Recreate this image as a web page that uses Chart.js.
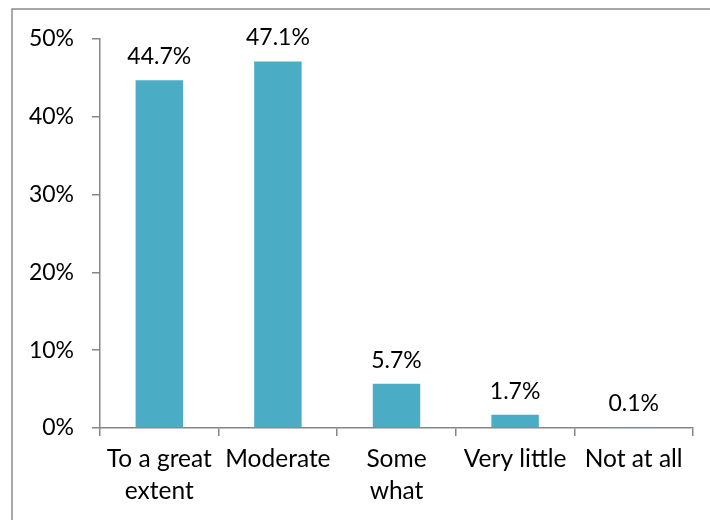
<!DOCTYPE html>
<html>
<head>
<meta charset="utf-8">
<script src="https://cdn.jsdelivr.net/npm/chart.js@4/dist/chart.umd.min.js"></script>
<style>
  html, body { margin: 0; padding: 0; background: #fff; }
  #wrap { width: 710px; height: 520px; position: relative; }
</style>
</head>
<body>
<div id="wrap"><canvas id="c" width="710" height="520"></canvas></div>
<script>
// Response categories (multi-line labels as arrays)
const categories = [["To a great", "extent"], "Moderate", ["Some", "what"], "Very little", "Not at all"];
// Share of respondents, in percent
const shares = [44.7, 47.1, 5.7, 1.7, 0.1];
// Y axis range and step
const yTicks = { min: 0, max: 50, step: 10 };

const FONT = "Lato, 'Open Sans', sans-serif";
const AXIS_GRAY = "#868686";

// Frame around the plot panel
const framePlugin = {
  id: "frame",
  beforeDraw(chart) {
    const ctx = chart.ctx;
    ctx.save();
    ctx.strokeStyle = "#8c8c8c";
    ctx.lineWidth = 1.5;
    ctx.beginPath();
    ctx.moveTo(12, chart.height + 2);
    ctx.lineTo(12, 9);
    ctx.lineTo(chart.width + 2, 9);
    ctx.stroke();
    ctx.restore();
  }
};

// Value labels above each bar
const valueLabels = {
  id: "valueLabels",
  afterDatasetsDraw(chart) {
    const ctx = chart.ctx;
    const meta = chart.getDatasetMeta(0);
    ctx.save();
    ctx.fillStyle = "#000";
    ctx.font = "23px " + FONT;
    ctx.textAlign = "center";
    ctx.textBaseline = "bottom";
    meta.data.forEach((bar, i) => {
      ctx.fillText(shares[i].toFixed(1) + "%", bar.x, bar.y - 12);
    });
    ctx.restore();
  }
};

new Chart(document.getElementById("c"), {
  type: "bar",
  data: {
    labels: categories,
    datasets: [{
      data: shares,
      backgroundColor: "#4BACC6",
      borderWidth: 0,
      minBarLength: 1,
      categoryPercentage: 1.0,
      barPercentage: 0.4
    }]
  },
  options: {
    responsive: false,
    animation: false,
    devicePixelRatio: 1,
    layout: { padding: { left: 12, top: 39, right: 17, bottom: 0 } },
    plugins: { legend: { display: false }, tooltip: { enabled: false } },
    scales: {
      x: {
        offset: true,
        grid: {
          offset: true,
          drawOnChartArea: false,
          drawTicks: true,
          tickLength: 8,
          color: AXIS_GRAY,
          lineWidth: 1.5
        },
        border: { display: true, color: AXIS_GRAY, width: 1.5 },
        ticks: {
          color: "#000",
          font: { family: FONT, size: 24.5, lineHeight: 1.32 },
          padding: 7,
          maxRotation: 0,
          autoSkip: false
        },
        afterFit(scale) { scale.height = 92; }
      },
      y: {
        min: yTicks.min,
        max: yTicks.max,
        grid: {
          drawOnChartArea: false,
          drawTicks: true,
          tickLength: 8,
          color: AXIS_GRAY,
          lineWidth: 1.5
        },
        border: { display: true, color: AXIS_GRAY, width: 1.5 },
        ticks: {
          stepSize: yTicks.step,
          color: "#000",
          font: { family: FONT, size: 23 },
          padding: 18,
          callback: v => v + "%"
        },
        afterFit(scale) { scale.width = 88; }
      }
    }
  },
  plugins: [framePlugin, valueLabels]
});
</script>
</body>
</html>
